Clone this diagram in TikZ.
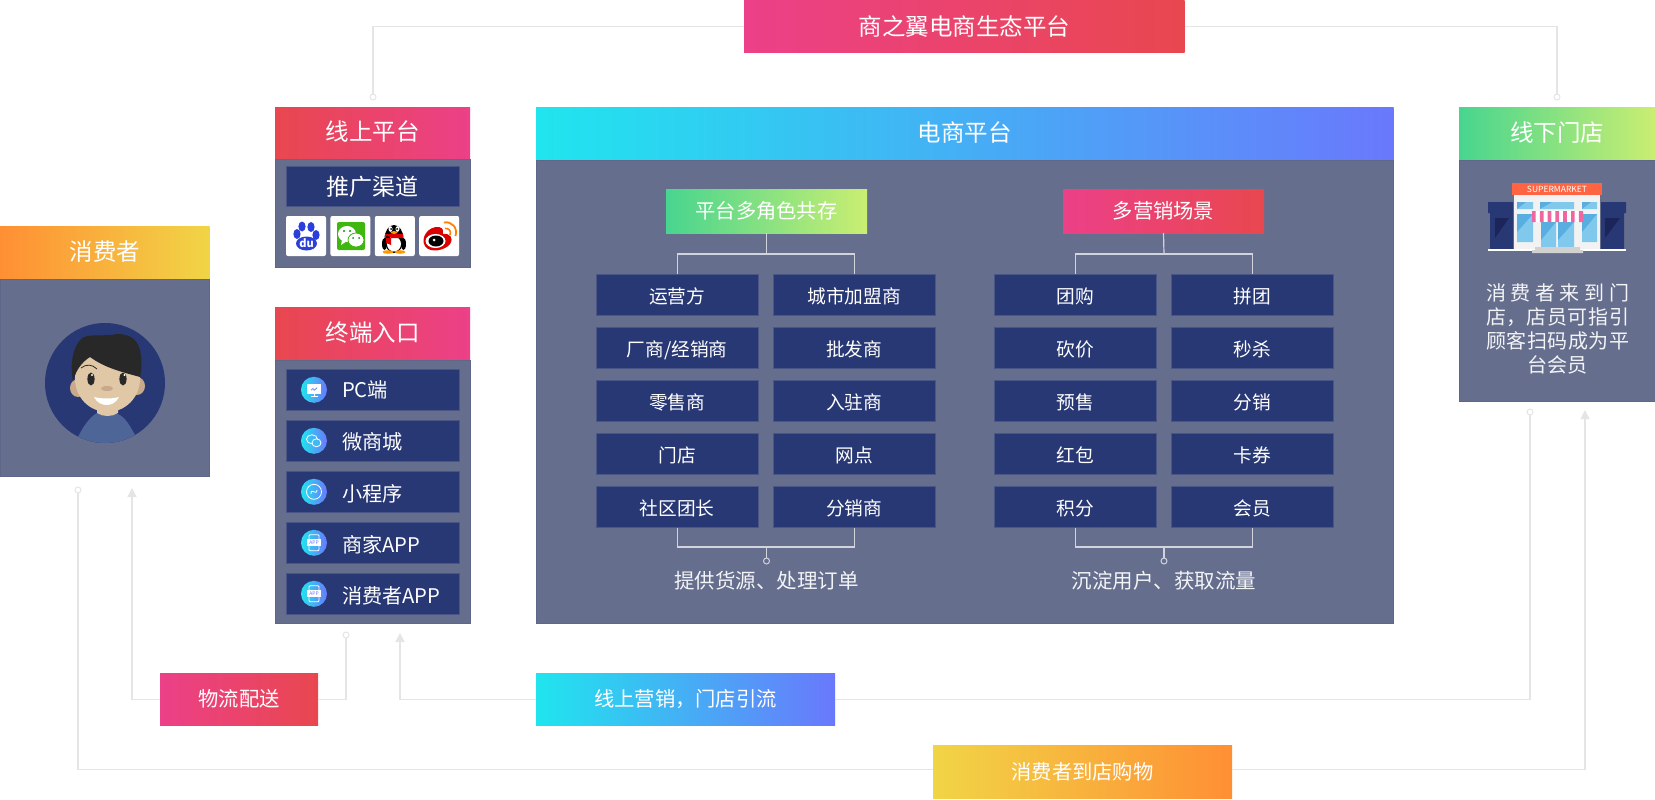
\documentclass[tikz,border=0pt]{standalone}
\usepackage{fontspec}
\setmainfont{Noto Sans CJK SC}
\usepackage{xcolor}
\usetikzlibrary{positioning,arrows.meta}
\definecolor{rose}{HTML}{EC4088}
\definecolor{coral}{HTML}{E9474F}
\definecolor{aqua}{HTML}{20E5EE}
\definecolor{violet}{HTML}{6A78FC}
\definecolor{mint}{HTML}{48D58F}
\definecolor{lime}{HTML}{CAEE72}
\definecolor{amber}{HTML}{FF8F34}
\definecolor{gold}{HTML}{F1D546}
\definecolor{slate}{HTML}{666E8E}
\definecolor{slateline}{HTML}{5E6689}
\definecolor{navy}{HTML}{283874}
\definecolor{navyline}{HTML}{4A5686}
\definecolor{wire}{HTML}{E5E5E5}
\definecolor{skin}{HTML}{E0C7A6}
\definecolor{skindark}{HTML}{C9A88C}
\definecolor{shirt}{HTML}{4D6597}
\definecolor{hair}{HTML}{282828}
\definecolor{glassa}{HTML}{80C9EC}
\definecolor{glassb}{HTML}{58AEE0}
\definecolor{nightblue}{HTML}{1B2559}
\definecolor{signred}{HTML}{FF6543}
\definecolor{pawblue}{HTML}{2B3FDB}
\definecolor{chatgreen}{HTML}{3FB70F}
\newcommand{\fs}[1]{\fontsize{#1}{#1}\selectfont}
\newcommand{\spreadline}[1]{\makebox[143pt][s]{#1}}

\begin{document}
\begin{tikzpicture}[
    x=1pt, y=-1pt, node distance=11pt, >={Stealth[length=9pt,width=9pt,inset=0pt]},
    every node/.style={inner sep=0pt, outer sep=0pt, text=white},
    box/.style={anchor=north west, font=\fs{23.5}, text height=20pt, text depth=5pt, minimum height=53pt},
    smallbox/.style={font=\fs{20.3}, text height=17pt, text depth=1.8pt},
    redbox/.style={box, left color=coral, right color=rose},
    rosebox/.style={box, left color=rose, right color=coral},
    aquabox/.style={box, left color=aqua, right color=violet},
    mintbox/.style={box, left color=mint, right color=lime},
    amberbox/.style={box, left color=amber, right color=gold},
    goldbox/.style={box, left color=gold, right color=amber},
    panel/.style={fill=slate, draw=slateline, line width=.8pt, minimum width=195pt},
    cell/.style={fill=navy, draw=navyline, line width=.8pt, font=\fs{18.7}, text height=19pt, text depth=1pt, minimum width=162.2pt, minimum height=41.6pt, anchor=north west},
    item/.style={cell, minimum width=173pt, minimum height=40.6pt},
    itemdot/.style={circle, left color=aqua, right color=violet, minimum size=26pt},
    itemtext/.style={font=\fs{20.2}},
    tile/.style={fill=white, rounded corners=2pt, minimum size=40pt, anchor=north west},
    wired/.style={draw=wire, line width=1.3pt},
    ring/.style={circle, draw=wire, line width=1pt, fill=white, minimum size=6pt},
    branch/.style={draw=white!70!slate, line width=1.2pt},
    branchdot/.style={circle, draw=white!70!slate, line width=1pt, fill=slate, minimum size=6pt},
    caption/.style={font=\fs{20.5}, text=white!92!slate},
    ink/.style={draw=white, line width=.8pt},
    apppic/.pic={
      \draw[ink, rounded corners=1pt] (-5,-8) rectangle (5,8);
      \fill[white] (-7,-3.5) rectangle (7,3.5);
      \node[text=violet, font=\fs{5}] at (0,0) {APP};
    }
]
\useasboundingbox (0,0) rectangle (1655,800);

\node[rosebox, minimum width=440.5pt, text depth=2.2pt] (top) at (744,0) {商之翼电商生态平台};

\node[amberbox, minimum width=209.5pt] (hconsumer) at (0,226) {消费者};
\node[panel, below=0pt of hconsumer, minimum width=209pt, minimum height=197.4pt] (bconsumer) {};

\node[redbox, minimum width=195pt, minimum height=52pt] (honline) at (275,107) {线上平台};
\node[panel, below=0pt of honline, minimum height=108.4pt] (bonline) {};
\node[item, font=\fs{23}] (promo) at (286,166) {推广渠道};
\node[tile] (baidu) at (286,216) {};
\node[tile, right=4.4pt of baidu] (wechat) {};
\node[tile, right=4.4pt of wechat] (qq) {};
\node[tile, right=4.4pt of qq] (weibo) {};

\node[redbox, minimum width=195pt] (hterm) at (275,307) {终端入口};
\node[panel, below=0pt of hterm, minimum height=263.4pt] (bterm) {};
\node[item] (pc) at (286,369.5) {};
\node[item, below=10.4pt of pc] (mall) {};
\node[item, below=10.4pt of mall] (mini) {};
\node[item, below=10.4pt of mini] (shopapp) {};
\node[item, below=10.4pt of shopapp] (userapp) {};
\node[itemdot, right=15pt of pc.west] (ipc) {};
\node[itemdot, right=15pt of mall.west] (imall) {};
\node[itemdot, right=15pt of mini.west] (imini) {};
\node[itemdot, right=15pt of shopapp.west] (ishop) {};
\node[itemdot, right=15pt of userapp.west] (iuser) {};
\node[itemtext, right=15pt of ipc] {PC端};
\node[itemtext, right=15pt of imall, yshift=-1pt] {微商城};
\node[itemtext, right=15pt of imini, yshift=-1.5pt] {小程序};
\node[itemtext, right=15pt of ishop, yshift=-2pt] {商家APP};
\node[itemtext, right=15pt of iuser, yshift=-2.5pt] {消费者APP};

\node[aquabox, minimum width=857.5pt] (hmain) at (536,107) {电商平台};
\node[panel, below=0pt of hmain, minimum width=857pt, minimum height=463.4pt] (bmain) {};

\node[mintbox, smallbox, minimum width=201pt, minimum height=44pt] (role) at (666,189) {平台多角色共存};
\node[cell] (r1) at (596,274) {运营方};
\node[cell, right=14.8pt of r1] (c1) {城市加盟商};
\node[cell, below=11.4pt of r1] (r2) {厂商/经销商};
\node[cell, below=11.4pt of c1] (c2) {批发商};
\node[cell, below=11.4pt of r2] (r3) {零售商};
\node[cell, below=11.4pt of c2] (c3) {入驻商};
\node[cell, below=11.4pt of r3] (r4) {门店};
\node[cell, below=11.4pt of c3] (c4) {网点};
\node[cell, below=11.4pt of r4] (r5) {社区团长};
\node[cell, below=11.4pt of c4] (c5) {分销商};
\node[caption] (rolecap) at (766.5,581) {提供货源、处理订单};
\coordinate (rolejoin) at (766.5,254);
\coordinate (roleend) at (766.5,547);
\node[branchdot] (roledot) at (766.5,561) {};

\node[rosebox, smallbox, minimum width=201pt, minimum height=44pt] (scene) at (1063,189) {多营销场景};
\node[cell] (s1) at (994,274) {团购};
\node[cell, right=14.8pt of s1] (t1) {拼团};
\node[cell, below=11.4pt of s1] (s2) {砍价};
\node[cell, below=11.4pt of t1] (t2) {秒杀};
\node[cell, below=11.4pt of s2] (s3) {预售};
\node[cell, below=11.4pt of t2] (t3) {分销};
\node[cell, below=11.4pt of s3] (s4) {红包};
\node[cell, below=11.4pt of t3] (t4) {卡券};
\node[cell, below=11.4pt of s4] (s5) {积分};
\node[cell, below=11.4pt of t4] (t5) {会员};
\node[caption] (scenecap) at (1164,581) {沉淀用户、获取流量};
\coordinate (scenejoin) at (1164,254);
\coordinate (sceneend) at (1164,547);
\node[branchdot] (scenedot) at (1164,561) {};

\node[mintbox, minimum width=196pt] (hstore) at (1459,107) {线下门店};
\node[panel, below=0pt of hstore, minimum width=196pt, minimum height=241.4pt] (bstore) {};
\node[caption, align=center, font=\fontsize{20}{24.2}\selectfont] (storecap) at (1557.5,329) {\spreadline{消\hfil 费\hfil 者\hfil 来\hfil 到\hfil 门}\\\spreadline{店，\hfil 店\hfil 员\hfil 可\hfil 指\hfil 引}\\\spreadline{顾\hfil 客\hfil 扫\hfil 码\hfil 成\hfil 为\hfil 平}\\台会员};

\node[rosebox, smallbox, minimum width=158pt, minimum height=52.5pt] (ship) at (160,673) {物流配送};
\node[aquabox, smallbox, minimum width=299pt, minimum height=52.5pt] (guide) at (536,673) {线上营销，门店引流};
\node[goldbox, smallbox, minimum width=299pt, minimum height=53.5pt] (visit) at (933,745) {消费者到店购物};

\node[ring] (dotonline) at (373,97) {};
\node[ring] (dotstore) at (1557,97) {};
\node[ring] (dotvisit) at (78,490) {};
\node[ring] (dotship) at (346,635) {};
\node[ring] (dotguide) at (1530,412) {};
\coordinate (tipship) at (132,488);
\coordinate (tipguide) at (400,633);
\coordinate (tipvisit) at (1585,410);

\path[wired]
 (top.west) edge[to path={-| (\tikztotarget)}] (dotonline.north)
 (top.east) edge[to path={-| (\tikztotarget)}] (dotstore.north)
 (ship.east) edge[to path={-| (\tikztotarget)}] (dotship.south)
 (guide.east) edge[to path={-| (\tikztotarget)}] (dotguide.south)
 (dotvisit.south) edge[to path={|- (\tikztotarget)}] ([yshift=2pt]visit.west);
\draw[wired, ->, >={Stealth[length=9pt,width=9pt,inset=0pt,wire]}] (ship.west) -| (tipship);
\draw[wired, ->, >={Stealth[length=9pt,width=9pt,inset=0pt,wire]}] (guide.west) -| (tipguide);
\draw[wired, ->, >={Stealth[length=9pt,width=9pt,inset=0pt,wire]}] ([yshift=2pt]visit.east) -| (tipvisit);

\draw[branch] (role.south) -- (rolejoin);
\draw[branch] (r1.north) |- (rolejoin) -| (c1.north);
\draw[branch] (r5.south) |- (roleend) -| (c5.south);
\draw[branch] (roleend) -- (roledot.north);
\draw[branch] (scene.south) -- (scenejoin);
\draw[branch] (s1.north) |- (scenejoin) -| (t1.north);
\draw[branch] (s5.south) |- (sceneend) -| (t5.south);
\draw[branch] (sceneend) -- (scenedot.north);

% avatar
\fill[navy] (105,383) circle[radius=60];
\begin{scope}
\clip (105,383) circle[radius=60];
\fill[shirt] (78,437) .. controls (84,425) and (90,417) .. (97,413) -- (118,414) .. controls (126,418) and (130,426) .. (135,435) -- (135,450) -- (78,450) -- cycle;
\end{scope}
\fill[skin] (97,405) rectangle (118,413);
\fill[skin] (97,413) .. controls (103,417) and (112,417) .. (118,413) -- (118,405) -- (97,405) -- cycle;
\fill[skindark] (78,388) ellipse (8 and 9);
\fill[skindark] (137,386) ellipse (8 and 9);
\fill[skin] (107.5,379) ellipse (32.5 and 33);
\fill[hair] (73,381) .. controls (70,365) and (72,348) .. (82,338) .. controls (92,333) and (105,337) .. (117,334) .. controls (128,334) and (137,338) .. (140,350) .. controls (142,360) and (142,368) .. (140,377) .. controls (122,372) and (105,368) .. (90,357) .. controls (82,362) and (76,370) .. (73,381) -- cycle;
\draw[hair, line width=.8pt] (81,368) .. controls (86,364) and (92,364) .. (97,369);
\fill[hair] (91,379) ellipse (3.6 and 6.5);
\fill[hair] (123,379) ellipse (3.6 and 6.5);
\fill[white] (92,375) circle[radius=1.2];
\fill[white] (124.5,375) circle[radius=1.2];
\fill[skindark] (107,388.5) ellipse (6 and 2.5);
\fill[white] (94,397) .. controls (102,399) and (112,399) .. (119,397) .. controls (116,403) and (111,405) .. (107,405) .. controls (102,405) and (97,403) .. (94,397) -- cycle;

% promotion icons
\fill[pawblue] (297,234) ellipse (3.6 and 5);
\fill[pawblue] (302,226.5) ellipse (3.6 and 5);
\fill[pawblue] (311,227) ellipse (3.6 and 5);
\fill[pawblue] (316,235) ellipse (3.6 and 5);
\fill[pawblue] (306.5,243.5) ellipse (10.5 and 7);
\node[font=\bfseries\fs{11}] (du) at (306.5,243.5) {du};

\fill[chatgreen, rounded corners=2pt] (337,222) rectangle (365,250);
\fill[white] (347,234) ellipse (9 and 8);
\fill[white] (342,240) -- (341,245) -- (347,241) -- cycle;
\draw[chatgreen, fill=white, line width=.8pt] (356,240) ellipse (8 and 7);
\fill[green!60!black] (344,231) circle[radius=1.2] (350,231) circle[radius=1.2] (353,238) circle[radius=1] (359,238) circle[radius=1];

\fill[black] (394,239) ellipse (9.5 and 14);
\fill[black] (384.5,244) ellipse (2.5 and 6);
\fill[black] (403.5,244) ellipse (2.5 and 6);
\fill[white] (394,244) ellipse (7 and 7.5);
\fill[red!85!black] (385,234) rectangle (403,238) (386,236) -- (391,237) -- (391,245) -- (386,243) -- cycle;
\fill[white] (390.5,229) ellipse (2 and 2.8) (397.5,229) ellipse (2 and 2.8);
\fill[black] (391,229) circle[radius=1] (397,229) circle[radius=1];
\fill[orange!80!yellow] (394,232.5) ellipse (3.5 and 1.4);
\fill[orange!80!yellow] (388,252) ellipse (5.5 and 1.8) (400,252) ellipse (5.5 and 1.8);

\fill[red!85!black] (425,246) .. controls (420,238) and (428,226) .. (439,227) .. controls (444,228) and (443,232) .. (443,234) .. controls (450,233) and (454,238) .. (450,244) .. controls (446,250) and (430,254) .. (425,246) -- cycle;
\fill[white] (435.5,241) ellipse (10 and 7);
\fill[black] (436,241) ellipse (7.5 and 5.5);
\fill[white] (434,240) circle[radius=1.5];
\draw[orange, line width=1.8pt] (444,222.5) .. controls (452,221) and (458,228) .. (455.5,236);
\draw[orange, line width=1.6pt] (445,228.5) .. controls (449,228) and (451.5,231) .. (450,235);

% terminal icons
\begin{scope}[shift={(ipc.center)}]
\draw[ink] (-6.5,-5) rectangle (6.5,4);
\fill[white] (-6.5,-5) rectangle (6.5,3);
\fill[violet] (-3,0) -- (-1,-2) -- (0,0) -- (3,-2.5) -- (3,-1.5) -- (0,1) -- (-1,-1) -- (-2.5,.7) -- cycle;
\draw[ink] (-3.5,6.5) -- (3.5,6.5) (0,4) -- (0,6.5);
\end{scope}
\begin{scope}[shift={(imall.center)}]
\draw[ink] (-2,-1.5) ellipse (5.5 and 4.5);
\draw[ink, fill=aqua!60!violet] (2.5,2) ellipse (4.5 and 4);
\end{scope}
\begin{scope}[shift={(imini.center)}]
\draw[ink] (0,0) circle[radius=7.5];
\draw[ink] (-3,2) .. controls (-3,-2) and (-1,0) .. (0,0) .. controls (1,0) and (3,2) .. (3,-2);
\end{scope}
\path (ishop.center) pic {apppic};
\path (iuser.center) pic {apppic};

% store
\fill[navy] (1488,202) rectangle (1513,213) (1490,213) rectangle (1513,249);
\fill[navy] (1601,202) rectangle (1626,213) (1601,213) rectangle (1624,249);
\fill[nightblue] (1495,218) -- (1509,218) -- (1495,238) -- cycle;
\fill[nightblue] (1605,218) -- (1620,218) -- (1605,238) -- cycle;
\fill[white!95!black] (1514,195) rectangle (1600,250);
\node[fill=signred, minimum width=90pt, minimum height=12pt, font=\fs{8.5}] (sign) at (1557,189) {SUPERMARKET};
\fill[glassa] (1517,202) rectangle (1533,209) (1540,202) rectangle (1574,209) (1582,202) rectangle (1597,209);
\fill[glassb] (1517,202) -- (1526,202) -- (1517,209) -- cycle (1540,202) -- (1552,202) -- (1540,209) -- cycle (1582,202) -- (1591,202) -- (1582,209) -- cycle;
\fill[glassa] (1517,214) rectangle (1533,242) (1582,214) rectangle (1597,242) (1541,222) rectangle (1556,247) (1558,222) rectangle (1574,247);
\fill[glassb] (1517,214) -- (1533,214) -- (1517,232) -- cycle (1582,214) -- (1597,214) -- (1582,232) -- cycle (1541,222) -- (1556,222) -- (1541,240) -- cycle (1558,222) -- (1574,222) -- (1558,240) -- cycle;
\fill[white] (1532,211) -- (1583,211) -- (1583,222) -- (1532,222) -- cycle;
\fill[rose!80!white] (1532,211) rectangle (1535.7,222) (1539.8,211) rectangle (1543.5,222) (1547.6,211) rectangle (1551.3,222) (1555.4,211) rectangle (1559.1,222) (1563.2,211) rectangle (1566.9,222) (1571,211) rectangle (1574.7,222) (1578.8,211) rectangle (1583,222);
\fill[white] (1488,249) rectangle (1626,250.5);
\fill[white!82!black] (1535,247) rectangle (1580,250) (1532,250) rectangle (1583,253);
\end{tikzpicture}
\end{document}
